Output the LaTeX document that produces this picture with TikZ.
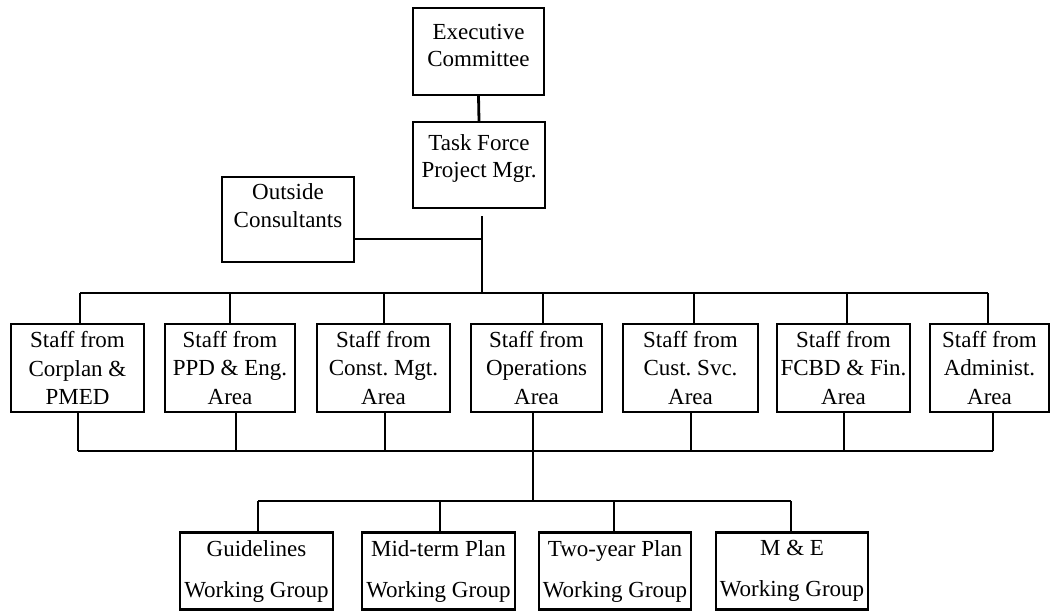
\documentclass[tikz,border=0pt]{standalone}
\usepackage{fontspec}
\setmainfont{Liberation Serif}
\frenchspacing
\begin{document}
\begin{tikzpicture}[x=1pt,y=-1pt,
  box/.style={draw=black, line width=2.2pt, rectangle, inner sep=0pt, align=center,
              font=\fontsize{23}{28.5}\selectfont},
  lbl/.style={inner sep=0pt, align=center, font=\fontsize{23}{27}\selectfont},
  wg/.style={box, minimum width=153pt, minimum height=77pt, font=\fontsize{23}{41}\selectfont},
  staff/.style={box, minimum height=88pt},
  conn/.style={line width=1.7pt},
  heavy/.style={line width=2.8pt},
  thin/.style={line width=1.3pt}]
\useasboundingbox (0,0) rectangle (1054,611);

% top of the hierarchy
\node[box, minimum width=131pt, minimum height=87pt] (exec) at (478.5,51.5) {};
\node[lbl] (exectxt) at (478.5,45.5) {Executive\\Committee};
\node[box, minimum width=132pt, minimum height=86pt] (task) at (479,165) {};
\node[lbl] (tasktxt) at (479,158) {Task Force\\Project Mgr.};
\node[box, minimum width=132pt, minimum height=85pt] (outside) at (288,219.5) {};
\node[lbl, font=\fontsize{23}{28}\selectfont] (outtxt) at (288,206) {Outside\\Consultants};

% staff boxes
\node[staff, minimum width=133pt] (s1) at (77.5,368) {Staff from\\Corplan \&\\PMED};
\node[staff, minimum width=130pt] (s2) at (230,368) {Staff from\\PPD \& Eng.\\Area};
\node[staff, minimum width=133pt] (s3) at (383.5,368) {Staff from\\Const. Mgt.\\Area};
\node[staff, minimum width=131pt] (s4) at (536.5,368) {Staff from\\Operations\\Area};
\node[staff, minimum width=135pt] (s5) at (690.5,368) {Staff from\\Cust. Svc.\\Area};
\node[staff, minimum width=133pt] (s6) at (843.5,368) {Staff from\\FCBD \& Fin.\\Area};
\node[staff, minimum width=119pt] (s7) at (989.5,368) {Staff from\\Administ.\\Area};

% working groups
\node[wg] (w1) at (256.5,571) {Guidelines\\Working Group};
\node[wg] (w2) at (438.5,571) {Mid-term Plan\\Working Group};
\node[wg, minimum width=152pt] (w3) at (615,571) {Two-year Plan\\Working Group};
\node[wg, minimum width=152pt] (w4) at (792,571) {M \& E\\Working Group};

% junction points on the buses
\coordinate (hub) at (482,293);
\coordinate (t1) at (80,293);  \coordinate (t2) at (230,293); \coordinate (t3) at (384,293);
\coordinate (t4) at (543,293); \coordinate (t5) at (694,293); \coordinate (t6) at (847,293);
\coordinate (t7) at (988,293);
\coordinate (b1) at (78,451);  \coordinate (b2) at (236,451); \coordinate (b3) at (385,451);
\coordinate (b4) at (533,451); \coordinate (b5) at (691,451); \coordinate (b6) at (844,451);
\coordinate (b7) at (993,451);
\coordinate (g0) at (533,501);
\coordinate (g1) at (258,501); \coordinate (g2) at (440,501); \coordinate (g3) at (614,501);
\coordinate (g4) at (791,501);

% upper chain
\draw[heavy] (exec.south) -- (task.north);
\draw[heavy] ([yshift=-7pt]task.south -| hub) -- (hub);
\draw[thin] ([yshift=-19.5pt]outside.east) -- ([yshift=-19.5pt]outside.east -| hub);

% upper bus and drops to the staff boxes
\draw[conn] (t1) -- (t7);
\draw[heavy] (t1) -- (t1 |- s1.north);
\draw[conn] (t2) -- (t2 |- s2.north);
\draw[conn] (t3) -- (t3 |- s3.north);
\draw[conn] (t4) -- (t4 |- s4.north);
\draw[heavy] (t5) -- (t5 |- s5.north);
\draw[heavy] (t6) -- (t6 |- s6.north);
\draw[heavy] (t7) -- (t7 |- s7.north);

% lower bus joining the staff boxes
\draw[conn] (b1) -- (b7);
\draw[heavy] (b1 |- s1.south) -- (b1);
\draw[heavy] (b2 |- s2.south) -- (b2);
\draw[heavy] (b3 |- s3.south) -- (b3);
\draw[heavy] (b5 |- s5.south) -- (b5);
\draw[heavy] (b6 |- s6.south) -- (b6);
\draw[heavy] (b7 |- s7.south) -- (b7);
\draw[thin] (b4 |- s4.south) -- (g0);

% working group bus
\draw[conn] (g1) -- (g4);
\draw[conn] (g1) -- (g1 |- w1.north);
\draw[heavy] (g2) -- (g2 |- w2.north);
\draw[conn] (g3) -- (g3 |- w3.north);
\draw[heavy] (g4) -- (g4 |- w4.north);
\end{tikzpicture}
\end{document}
